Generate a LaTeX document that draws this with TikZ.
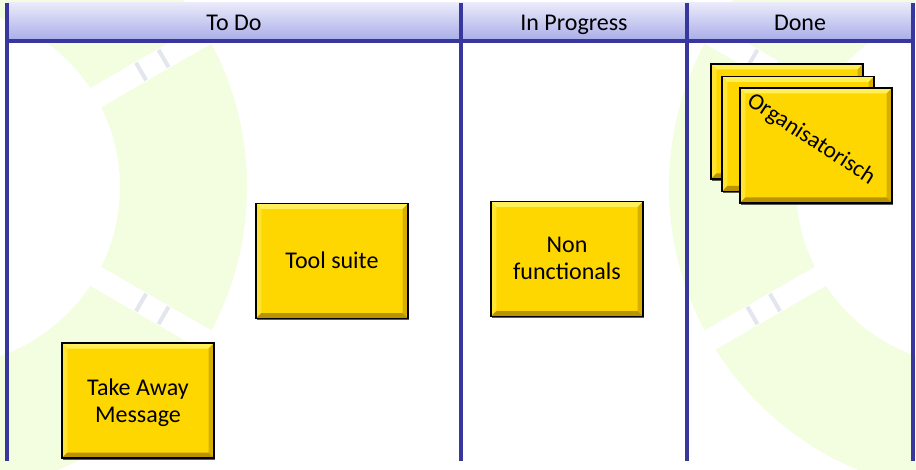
\documentclass[tikz,border=0pt]{standalone}
\usepackage{fontspec}
\setmainfont{Carlito}
\usetikzlibrary{shadows,calc}
\definecolor{ringgreen}{RGB}{243,253,224}
\definecolor{gapgray}{RGB}{228,230,238}
\definecolor{colline}{RGB}{55,55,158}
\definecolor{hdtop}{RGB}{234,234,250}
\definecolor{hdbot}{RGB}{168,172,232}
\definecolor{cardfill}{RGB}{255,215,0}
\definecolor{cardhi}{RGB}{255,240,90}
\definecolor{cardside}{RGB}{255,228,50}
\definecolor{cardlo}{RGB}{185,148,0}
\definecolor{cardmid}{RGB}{215,175,0}
\begin{document}
\begin{tikzpicture}[x=0.75pt,y=-0.75pt,
  card/.style={draw=black, line width=1.1pt, fill=cardfill,
    minimum width=114pt, minimum height=86pt, inner sep=0pt, align=center,
    font=\fontsize{18}{20.5}\selectfont, text depth=1pt,
    drop shadow={shadow xshift=1pt,shadow yshift=-1.5pt,fill=black!85,opacity=0.75},
    path picture={
      \fill[cardhi] (path picture bounding box.north west) -- (path picture bounding box.north east)
        -- ([shift={(-4pt,-4pt)}]path picture bounding box.north east) -- ([shift={(4pt,-4pt)}]path picture bounding box.north west) -- cycle;
      \fill[cardside] (path picture bounding box.north west) -- ([shift={(4pt,-4pt)}]path picture bounding box.north west)
        -- ([shift={(4pt,4pt)}]path picture bounding box.south west) -- (path picture bounding box.south west) -- cycle;
      \fill[cardmid] (path picture bounding box.north east) -- ([shift={(-4pt,-4pt)}]path picture bounding box.north east)
        -- ([shift={(-4pt,4pt)}]path picture bounding box.south east) -- (path picture bounding box.south east) -- cycle;
      \fill[cardlo] (path picture bounding box.south west) -- ([shift={(4pt,4pt)}]path picture bounding box.south west)
        -- ([shift={(-4pt,4pt)}]path picture bounding box.south east) -- (path picture bounding box.south east) -- cycle;
    }},
  colhead/.style={font=\fontsize{18}{21}\selectfont, inner sep=0pt, anchor=base},
  colline/.style={draw=colline, line width=2.5pt},
  ringgap/.style={draw=white, line width=16.5pt},
  gapmark/.style={draw=gapgray, line width=3pt}
]
\useasboundingbox (0,0) rectangle (916,470);
\fill[white] (0,0) rectangle (916,470);
% faint background rings
\begin{scope}
  \clip (0,0) rectangle (916,470);
  \coordinate (lc) at (-59,187);
  \coordinate (rc) at (975,187);
  \fill[ringgreen, even odd rule] (lc) circle[radius=306] (lc) circle[radius=179];
  \fill[ringgreen, even odd rule] (rc) circle[radius=306] (rc) circle[radius=179];
  \foreach \c/\a in {lc/30, lc/-30, lc/90, rc/150, rc/210, rc/90} {
    \draw[ringgap] ($(\c)+(\a:170)$) -- ($(\c)+(\a:315)$);
    \foreach \r in {231,257} {
      \draw[gapmark] ($(\c)+(\a:\r)+(\a+90:10)$) -- ($(\c)+(\a:\r)+(\a-90:10)$);
    }
  }
\end{scope}
% header
\shade[top color=hdtop, bottom color=hdbot] (7,3) rectangle (913,41);
\node[colhead] (h1) at (234,31) {To Do};
\node[colhead] (h2) at (574,31) {In Progress};
\node[colhead] (h3) at (800,31) {Done};
% grid lines
\draw[colline] (7,41) -- (913,41);
\foreach \x in {7,461,687,913} { \draw[colline] (\x,3) -- (\x,461); }
% cards
\node[card] (tool) at (332,261) {Tool suite};
\node[card] (nonf) at (567,259) {Non\\functionals};
\node[card] (take) at (138,400.5) {\raisebox{-1.5pt}{Take Away}\\\raisebox{-1.5pt}{Message}};
\node[card] (org1) at (787,121.5) {};
\node[card] (org2) at (798,134) {};
\node[card] (org3) at (816,145.5) {};
\node[font=\fontsize{17.5}{21}\selectfont, rotate=-33, inner sep=0pt] (orgt) at (811,139.5) {Organisatorisch};
\end{tikzpicture}
\end{document}
